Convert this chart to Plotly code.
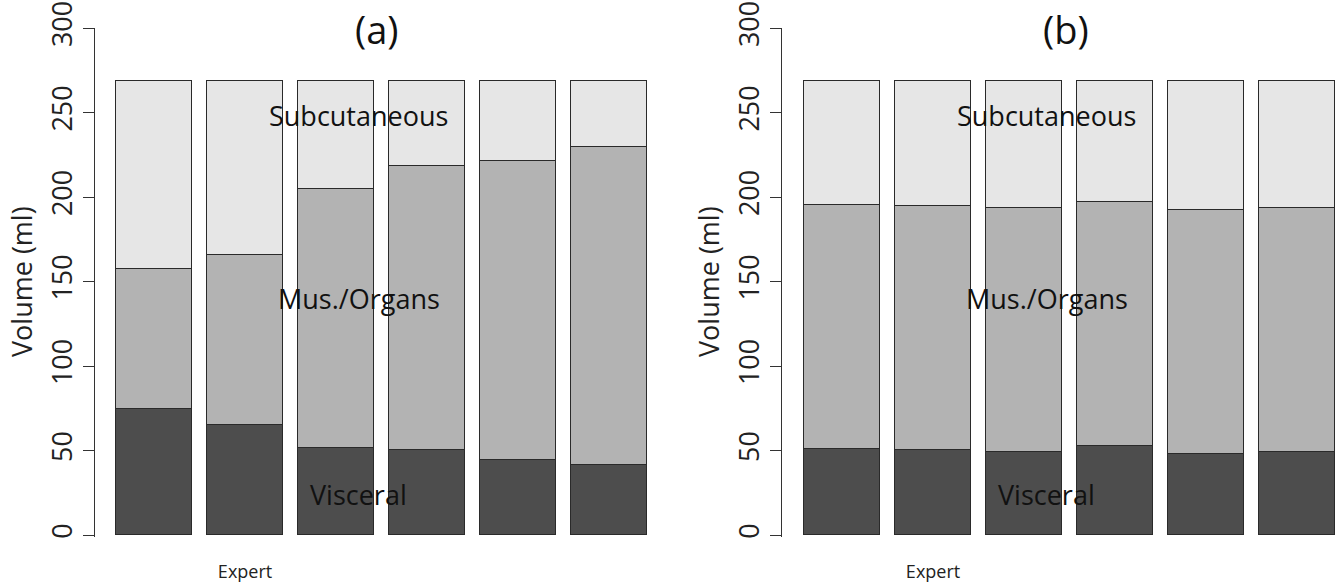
import plotly.graph_objects as go

# ---- data ----
bar_labels = ["", "Expert", "", "", "", ""]
series_names = ["Visceral", "Mus./Organs", "Subcutaneous"]

# panel (a)
a_visceral = [74.4, 65.1, 51.7, 50.3, 44.4, 41.6]
a_muscle = [83.0, 100.8, 153.0, 168.0, 176.7, 188.0]
a_subcut = [111.4, 102.9, 64.1, 50.5, 47.7, 39.2]

# panel (b)
b_visceral = [50.7, 50.3, 49.3, 52.8, 48.1, 49.3]
b_muscle = [144.4, 144.2, 144.2, 144.2, 144.0, 144.0]
b_subcut = [73.7, 74.3, 75.3, 71.8, 76.7, 75.5]

y_ticks = [0, 50, 100, 150, 200, 250, 300]
panel_titles = ["(a)", "(b)"]
y_title = "Volume (ml)"

colors = ["#4d4d4d", "#b3b3b3", "#e6e6e6"]
FONT = "Open Sans"
W, H = 1342, 586

idx = list(range(len(bar_labels)))
fig = go.Figure()

panels = [
    ("x", "y", [a_visceral, a_muscle, a_subcut]),
    ("x2", "y2", [b_visceral, b_muscle, b_subcut]),
]
for xa, ya, series in panels:
    for name, vals, col in zip(series_names, series, colors):
        fig.add_trace(go.Bar(
            x=idx, y=vals, name=name, xaxis=xa, yaxis=ya,
            width=1 / 1.2,
            marker=dict(color=col, line=dict(color="#2a2a2a", width=1)),
            showlegend=False, hoverinfo="y",
        ))

# pixel geometry
y0_px, y300_px = 535, 28
ppu = (y0_px - y300_px) / 300.0
ydom = [(H - (y0_px + 1.0 * ppu)) / H, (H - y300_px) / H]
pitch = 91.03

def xaxis_cfg(left_px, right_px, bar1_center_px):
    return dict(
        domain=[left_px / W, min(right_px / W, 1.0)],
        range=[-(bar1_center_px - left_px) / pitch,
               (min(right_px, W) - bar1_center_px) / pitch],
        showline=False, showgrid=False, zeroline=False, ticks="",
        tickmode="array", tickvals=idx, ticktext=bar_labels,
        tickfont=dict(family=FONT, size=18, color="#222"),
        ticklabelstandoff=22, automargin=False,
    )

def yaxis_cfg(anchor):
    return dict(
        domain=ydom, range=[-1.0, 300], anchor=anchor,
        showline=True, linecolor="#333", linewidth=1,
        ticks="outside", ticklen=11, tickcolor="#333", tickwidth=1,
        tickmode="array", tickvals=y_ticks,
        tickangle=-90, tickfont=dict(family=FONT, size=27, color="#222"),
        showgrid=False, zeroline=False, automargin=False,
    )

fig.update_layout(
    width=W, height=H,
    margin=dict(l=0, r=0, t=0, b=0, autoexpand=False),
    paper_bgcolor="white", plot_bgcolor="white",
    barmode="stack", bargap=0,
    xaxis=dict(**xaxis_cfg(95, 668, 154), anchor="y"),
    yaxis=yaxis_cfg("x"),
    xaxis2=dict(**xaxis_cfg(782, 1355, 842), anchor="y2"),
    yaxis2=yaxis_cfg("x2"),
    font=dict(family=FONT, color="#222"),
)

annots = []
for k, (xref, yref, title_x, ylab_x) in enumerate([
        ("x", "y", 377, 21), ("x2", "y2", 1066, 708)]):
    annots.append(dict(text=panel_titles[k], xref="paper", yref="paper",
                       x=title_x / W, y=1 - 29 / H, showarrow=False,
                       font=dict(family=FONT, size=38, color="#111"),
                       xanchor="center", yanchor="middle"))
    annots.append(dict(text=y_title, xref="paper", yref="paper",
                       x=ylab_x / W, y=1 - 282 / H, showarrow=False,
                       textangle=-90,
                       font=dict(family=FONT, size=27, color="#222"),
                       xanchor="center", yanchor="middle"))
    for name, yv in zip(series_names[::-1], [248, 140, 24]):
        annots.append(dict(text=name, xref=xref, yref=yref, x=2.25, y=yv,
                           showarrow=False,
                           font=dict(family=FONT, size=27, color="#111"),
                           xanchor="center", yanchor="middle"))
fig.update_layout(annotations=annots)

fig.write_html(
    "out.html",
    config={"displayModeBar": False},
    post_script="document.body.style.margin='0';"
                "document.body.style.overflow='hidden';",
)
